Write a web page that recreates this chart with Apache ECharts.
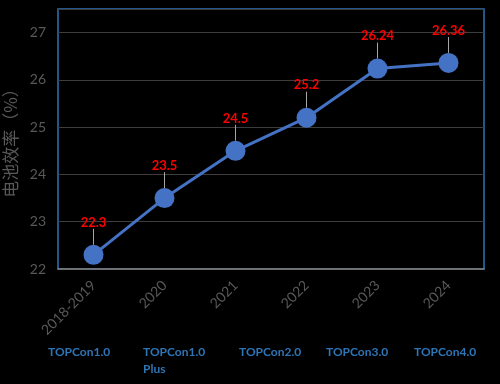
<!DOCTYPE html>
<html><head><meta charset="utf-8">
<script src="https://cdn.jsdelivr.net/npm/echarts@6/dist/echarts.min.js"></script>
<style>html,body{margin:0;padding:0;background:#000;}#c{width:500px;height:384px;}</style>
</head><body><div id="c"></div>
<script>
const years = ['2018-2019','2020','2021','2022','2023','2024'];
const efficiency = [22.3, 23.5, 24.5, 25.2, 26.24, 26.36];
const techNames = ['TOPCon1.0','TOPCon1.0\nPlus','TOPCon2.0','TOPCon3.0','TOPCon4.0'];
const techX = [48, 143, 239, 326, 414];
const yName = '电池效率（%）';

const chart = echarts.init(document.getElementById('c'));
const font = 'Lato, "Noto Sans CJK SC", sans-serif';
chart.setOption({
  backgroundColor: '#000',
  animation: false,
  grid: {left: 58, right: 16, top: 9, bottom: 115, show: true, borderColor: '#2e75b6', borderWidth: 1.5,
    backgroundColor: 'transparent', containLabel: false, outerBoundsMode: 'none'},
  xAxis: {
    type: 'category', data: years, boundaryGap: true,
    axisLine: {lineStyle: {color: '#7f7f7f', width: 1.5}},
    axisTick: {show: false},
    axisLabel: {rotate: 45, color: '#595959', fontSize: 14, fontFamily: font, margin: 14}
  },
  yAxis: {
    type: 'value', min: 22, max: 27.5, interval: 1,
    name: yName, nameLocation: 'middle', nameGap: 34, nameRotate: 90,
    nameTextStyle: {color: '#595959', fontSize: 17, fontFamily: '"Noto Sans CJK SC", sans-serif'},
    axisLine: {show: false}, axisTick: {show: false},
    axisLabel: {color: '#595959', fontSize: 14, fontFamily: font, margin: 12,
      formatter: v => Number.isInteger(v) ? String(v) : ''},
    splitLine: {lineStyle: {color: '#3d3d3d', width: 1}}
  },
  series: [{
    type: 'line', data: efficiency,
    symbol: 'circle', symbolSize: 20,
    lineStyle: {color: '#4472c4', width: 3},
    itemStyle: {color: '#4472c4'},
    label: {show: true, position: 'top', distance: 14, color: '#ff0000', fontWeight: 'bold', fontSize: 13, fontFamily: font},
    labelLine: {show: true, lineStyle: {color: '#a6a6a6', width: 1}},
    labelLayout: {dy: -2}
  }],
  graphic: techNames.map((t, i) => ({
    type: 'text', left: techX[i], top: 344,
    style: {text: t, fill: '#2e75b6', font: 'bold 12px ' + font, lineHeight: 17}
  }))
});
</script></body></html>
